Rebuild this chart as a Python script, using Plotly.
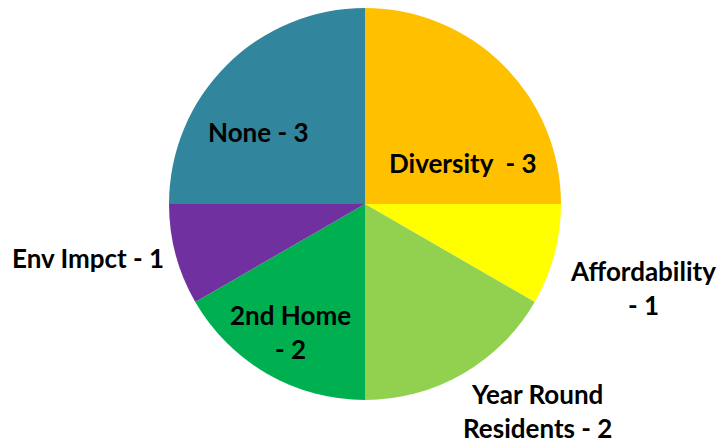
import plotly.graph_objects as go

labels = ["Diversity", "Affordability", "Year Round Residents", "2nd Home", "Env Impct", "None"]
values = [3, 1, 2, 2, 1, 3]
colors = ["#FFC000", "#FFFF00", "#92D050", "#00B050", "#7030A0", "#31859C"]
label_texts = ["Diversity  - 3", "Affordability<br>- 1", "Year Round<br>Residents - 2",
               "2nd Home<br>- 2", "Env Impct - 1", "None - 3"]

W, H = 718, 436  # page body adds an 8px margin
# label anchor positions in figure pixels (layout only)
label_px = [(455, 155), (635, 280), (529, 403), (282, 324), (80, 250), (250, 124)]

fig = go.Figure(go.Pie(
    labels=labels, values=values, sort=False, direction="clockwise", rotation=0,
    marker=dict(colors=colors, line=dict(width=0)),
    textinfo="none", hoverinfo="label+value", showlegend=False,
    domain=dict(x=[161/W, 553/W], y=[44/H, 1.0]),
))
for t, (px, py) in zip(label_texts, label_px):
    fig.add_annotation(x=px/W, y=1-py/H, xref="paper", yref="paper", text=t, showarrow=False,
                       xanchor="center", yanchor="middle",
                       font=dict(family="Lato", size=26, color="black", weight="bold"))
fig.update_layout(width=W, height=H, margin=dict(l=0, r=0, t=0, b=0),
                  paper_bgcolor="white", plot_bgcolor="white")
fig.write_html("out.html")
